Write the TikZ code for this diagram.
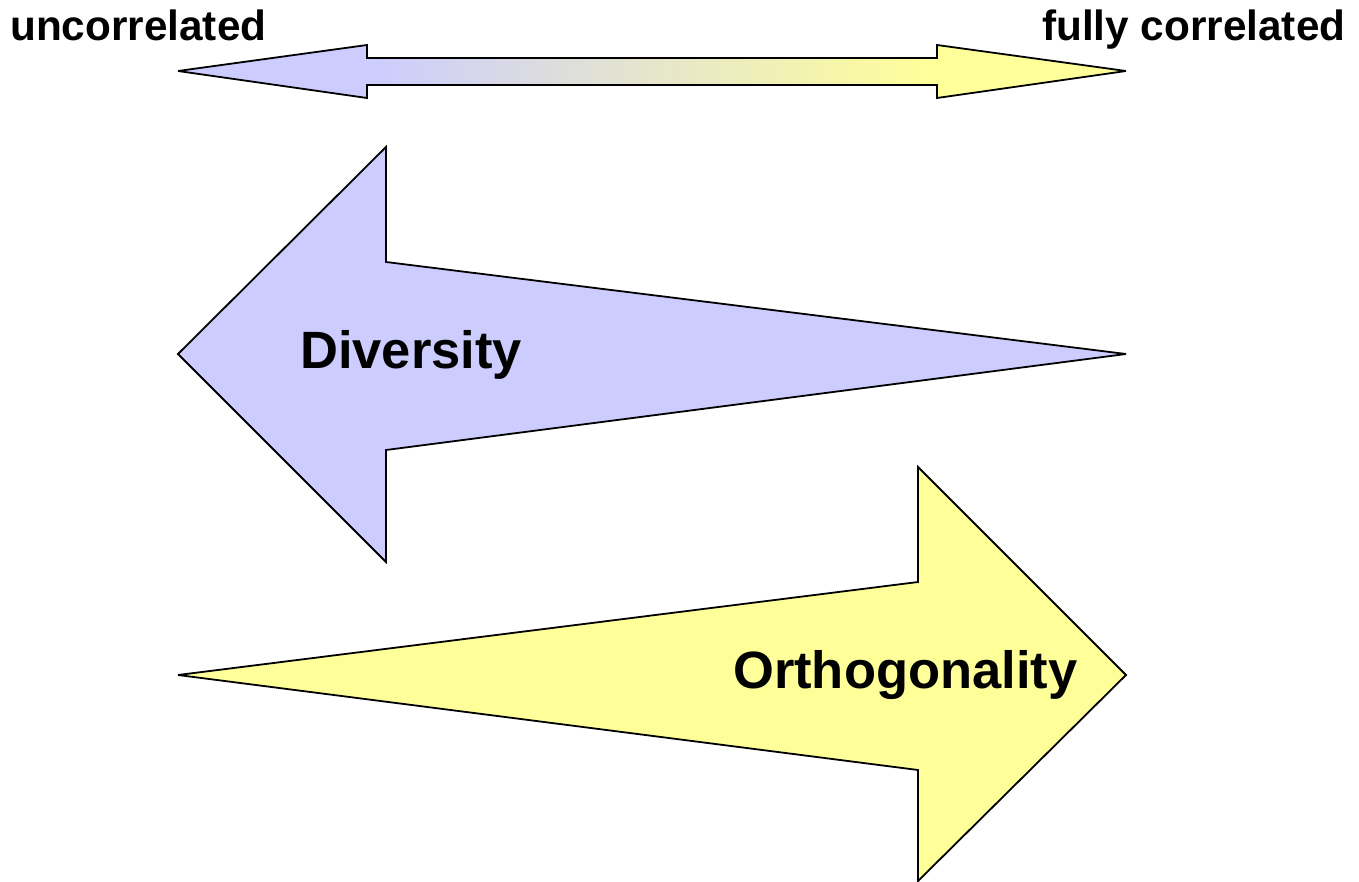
\documentclass[tikz,border=0pt]{standalone}
\usepackage{fontspec}
\setmainfont{Liberation Sans}
\definecolor{blueA}{HTML}{CCCCFF}
\definecolor{yellowA}{HTML}{FFFF99}
\pgfdeclarehorizontalshading{topgrad}{100bp}{color(0bp)=(blueA); color(35bp)=(blueA); color(65bp)=(yellowA); color(100bp)=(yellowA)}
\begin{document}
\begin{tikzpicture}[x=1pt,y=-1pt,
  arrowshape/.style={draw=black,line width=1.8pt,line join=miter,miter limit=3},
  lbl/.style={font=\bfseries\fontsize{42.3}{48}\selectfont,inner sep=0pt,anchor=base west},
  biglbl/.style={font=\bfseries\fontsize{52.5}{60}\selectfont,inner sep=0pt,anchor=base west}]
\useasboundingbox (0,0) rectangle (1359,882);
% top double arrow
\draw[arrowshape,shading=topgrad] (178,71) -- (367,45) -- (367,58) -- (937,58) -- (937,45) -- (1126,71) -- (937,98) -- (937,85) -- (367,85) -- (367,98) -- cycle;
% Diversity arrow
\draw[arrowshape,fill=blueA] (178,354) -- (386,147) -- (386,262) -- (1126,354) -- (386,450) -- (386,562) -- cycle;
% Orthogonality arrow
\draw[arrowshape,fill=yellowA] (178,675) -- (918,582) -- (918,467) -- (1126,675) -- (918,881) -- (918,770) -- cycle;
\node[lbl] (unc) at (10,41) {uncorrelated};
\node[lbl] (full) at (1042,41) {fully correlated};
\node[biglbl] (div) at (300,368) {Diversity};
\node[biglbl] (orth) at (733,688) {Orthogonality};
\end{tikzpicture}
\end{document}
